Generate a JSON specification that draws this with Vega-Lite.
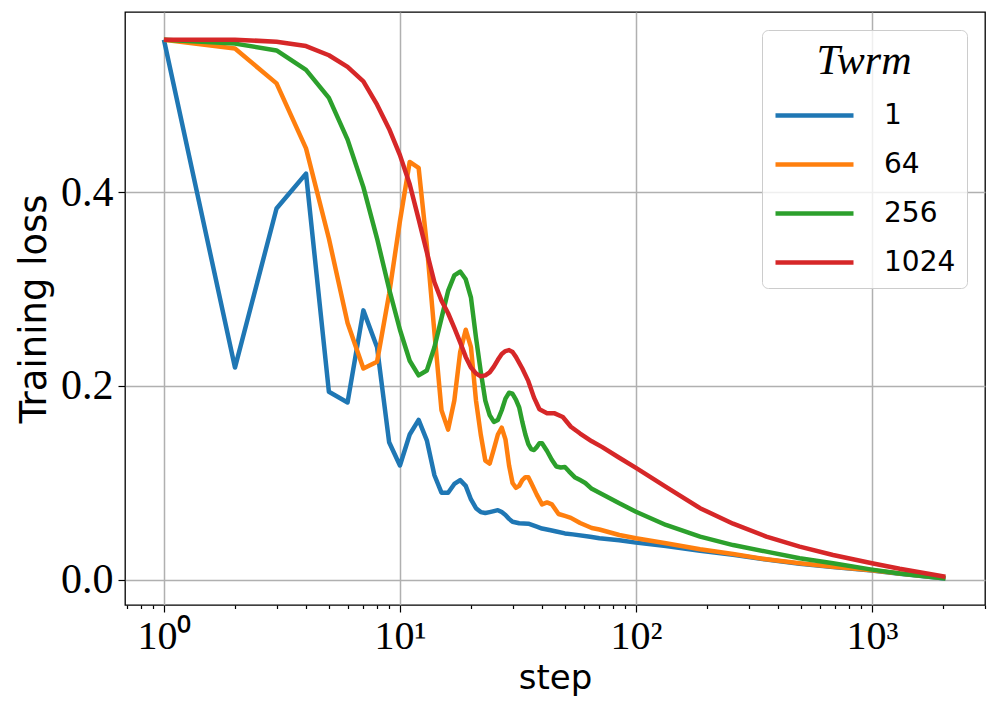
{
  "$schema": "https://vega.github.io/schema/vega-lite/v6.json",
  "width": 860,
  "height": 593,
  "autosize": {"type": "none"},
  "padding": {"left": 125, "top": 12, "right": 12, "bottom": 112},
  "background": "white",
  "config": {
    "view": {"stroke": "black", "strokeWidth": 1.3},
    "axis": {"domain": false, "tickColor": "black", "tickWidth": 1.2, "gridColor": "#b0b0b0", "gridWidth": 1.5, "labelColor": "black", "titleColor": "black"}
  },
  "datasets": {
    "loss": [
      {"step":1,"loss":0.557,"T":"1"},{"step":2,"loss":0.219,"T":"1"},{"step":3,"loss":0.383,"T":"1"},{"step":4,"loss":0.419,"T":"1"},{"step":5,"loss":0.194,"T":"1"},{"step":6,"loss":0.183,"T":"1"},{"step":7,"loss":0.278,"T":"1"},{"step":8,"loss":0.240,"T":"1"},{"step":9,"loss":0.142,"T":"1"},{"step":10,"loss":0.118,"T":"1"},{"step":11,"loss":0.150,"T":"1"},{"step":12,"loss":0.165,"T":"1"},{"step":13,"loss":0.144,"T":"1"},{"step":14,"loss":0.108,"T":"1"},{"step":15,"loss":0.090,"T":"1"},{"step":16,"loss":0.090,"T":"1"},{"step":17,"loss":0.099,"T":"1"},{"step":18,"loss":0.103,"T":"1"},{"step":19,"loss":0.097,"T":"1"},{"step":20,"loss":0.083,"T":"1"},{"step":21,"loss":0.074,"T":"1"},{"step":22,"loss":0.070,"T":"1"},{"step":23,"loss":0.069,"T":"1"},{"step":24,"loss":0.070,"T":"1"},{"step":25,"loss":0.071,"T":"1"},{"step":26,"loss":0.072,"T":"1"},{"step":27,"loss":0.070,"T":"1"},{"step":28,"loss":0.067,"T":"1"},{"step":29,"loss":0.063,"T":"1"},{"step":30,"loss":0.060,"T":"1"},{"step":32,"loss":0.0585,"T":"1"},{"step":35,"loss":0.058,"T":"1"},{"step":38,"loss":0.055,"T":"1"},{"step":40,"loss":0.053,"T":"1"},{"step":43,"loss":0.0515,"T":"1"},{"step":46,"loss":0.050,"T":"1"},{"step":50,"loss":0.048,"T":"1"},{"step":54,"loss":0.047,"T":"1"},{"step":64,"loss":0.0445,"T":"1"},{"step":70,"loss":0.043,"T":"1"},{"step":85,"loss":0.041,"T":"1"},{"step":100,"loss":0.0385,"T":"1"},{"step":134,"loss":0.035,"T":"1"},{"step":187,"loss":0.030,"T":"1"},{"step":258,"loss":0.026,"T":"1"},{"step":357,"loss":0.021,"T":"1"},{"step":494,"loss":0.0168,"T":"1"},{"step":684,"loss":0.0134,"T":"1"},{"step":1000,"loss":0.0098,"T":"1"},{"step":1311,"loss":0.0065,"T":"1"},{"step":2048,"loss":0.0015,"T":"1"},

      {"step":1,"loss":0.557,"T":"64"},{"step":2,"loss":0.548,"T":"64"},{"step":3,"loss":0.512,"T":"64"},{"step":4,"loss":0.445,"T":"64"},{"step":5,"loss":0.352,"T":"64"},{"step":6,"loss":0.265,"T":"64"},{"step":7,"loss":0.218,"T":"64"},{"step":8,"loss":0.225,"T":"64"},{"step":9,"loss":0.295,"T":"64"},{"step":10,"loss":0.370,"T":"64"},{"step":11,"loss":0.431,"T":"64"},{"step":12,"loss":0.425,"T":"64"},{"step":13,"loss":0.345,"T":"64"},{"step":14,"loss":0.255,"T":"64"},{"step":15,"loss":0.175,"T":"64"},{"step":16,"loss":0.155,"T":"64"},{"step":17,"loss":0.185,"T":"64"},{"step":18,"loss":0.235,"T":"64"},{"step":19,"loss":0.258,"T":"64"},{"step":20,"loss":0.240,"T":"64"},{"step":21,"loss":0.185,"T":"64"},{"step":22,"loss":0.150,"T":"64"},{"step":23,"loss":0.123,"T":"64"},{"step":24,"loss":0.120,"T":"64"},{"step":25,"loss":0.135,"T":"64"},{"step":26,"loss":0.150,"T":"64"},{"step":27,"loss":0.157,"T":"64"},{"step":28,"loss":0.145,"T":"64"},{"step":29,"loss":0.118,"T":"64"},{"step":30,"loss":0.100,"T":"64"},{"step":31,"loss":0.095,"T":"64"},{"step":32,"loss":0.097,"T":"64"},{"step":33,"loss":0.103,"T":"64"},{"step":34,"loss":0.106,"T":"64"},{"step":35,"loss":0.106,"T":"64"},{"step":36,"loss":0.100,"T":"64"},{"step":38,"loss":0.088,"T":"64"},{"step":40,"loss":0.078,"T":"64"},{"step":42,"loss":0.080,"T":"64"},{"step":44,"loss":0.078,"T":"64"},{"step":47,"loss":0.068,"T":"64"},{"step":50,"loss":0.066,"T":"64"},{"step":53,"loss":0.064,"T":"64"},{"step":58,"loss":0.0587,"T":"64"},{"step":65,"loss":0.0536,"T":"64"},{"step":70,"loss":0.052,"T":"64"},{"step":85,"loss":0.0464,"T":"64"},{"step":100,"loss":0.043,"T":"64"},{"step":134,"loss":0.0378,"T":"64"},{"step":187,"loss":0.0317,"T":"64"},{"step":258,"loss":0.0268,"T":"64"},{"step":357,"loss":0.0213,"T":"64"},{"step":494,"loss":0.0172,"T":"64"},{"step":684,"loss":0.0137,"T":"64"},{"step":1000,"loss":0.0100,"T":"64"},{"step":1311,"loss":0.0066,"T":"64"},{"step":2048,"loss":0.002,"T":"64"},

      {"step":1,"loss":0.557,"T":"256"},{"step":2,"loss":0.553,"T":"256"},{"step":3,"loss":0.546,"T":"256"},{"step":4,"loss":0.526,"T":"256"},{"step":5,"loss":0.497,"T":"256"},{"step":6,"loss":0.454,"T":"256"},{"step":7,"loss":0.405,"T":"256"},{"step":8,"loss":0.352,"T":"256"},{"step":9,"loss":0.300,"T":"256"},{"step":10,"loss":0.258,"T":"256"},{"step":11,"loss":0.226,"T":"256"},{"step":12,"loss":0.211,"T":"256"},{"step":13,"loss":0.216,"T":"256"},{"step":14,"loss":0.240,"T":"256"},{"step":15,"loss":0.270,"T":"256"},{"step":16,"loss":0.298,"T":"256"},{"step":17,"loss":0.314,"T":"256"},{"step":18,"loss":0.318,"T":"256"},{"step":19,"loss":0.310,"T":"256"},{"step":20,"loss":0.291,"T":"256"},{"step":21,"loss":0.250,"T":"256"},{"step":22,"loss":0.215,"T":"256"},{"step":23,"loss":0.185,"T":"256"},{"step":24,"loss":0.170,"T":"256"},{"step":25,"loss":0.163,"T":"256"},{"step":26,"loss":0.165,"T":"256"},{"step":27,"loss":0.175,"T":"256"},{"step":28,"loss":0.187,"T":"256"},{"step":29,"loss":0.193,"T":"256"},{"step":30,"loss":0.192,"T":"256"},{"step":31,"loss":0.186,"T":"256"},{"step":32,"loss":0.178,"T":"256"},{"step":33,"loss":0.163,"T":"256"},{"step":34,"loss":0.150,"T":"256"},{"step":35,"loss":0.140,"T":"256"},{"step":36,"loss":0.135,"T":"256"},{"step":37,"loss":0.134,"T":"256"},{"step":38,"loss":0.137,"T":"256"},{"step":39,"loss":0.141,"T":"256"},{"step":40,"loss":0.141,"T":"256"},{"step":42,"loss":0.133,"T":"256"},{"step":44,"loss":0.124,"T":"256"},{"step":46,"loss":0.117,"T":"256"},{"step":48,"loss":0.116,"T":"256"},{"step":50,"loss":0.1165,"T":"256"},{"step":52,"loss":0.112,"T":"256"},{"step":55,"loss":0.106,"T":"256"},{"step":58,"loss":0.103,"T":"256"},{"step":61,"loss":0.100,"T":"256"},{"step":65,"loss":0.094,"T":"256"},{"step":70,"loss":0.090,"T":"256"},{"step":85,"loss":0.079,"T":"256"},{"step":100,"loss":0.0704,"T":"256"},{"step":134,"loss":0.0567,"T":"256"},{"step":187,"loss":0.0447,"T":"256"},{"step":258,"loss":0.036,"T":"256"},{"step":357,"loss":0.0292,"T":"256"},{"step":494,"loss":0.0224,"T":"256"},{"step":684,"loss":0.0172,"T":"256"},{"step":1000,"loss":0.0107,"T":"256"},{"step":1311,"loss":0.0066,"T":"256"},{"step":2048,"loss":0.0015,"T":"256"},

      {"step":1,"loss":0.557,"T":"1024"},{"step":2,"loss":0.557,"T":"1024"},{"step":3,"loss":0.555,"T":"1024"},{"step":4,"loss":0.5505,"T":"1024"},{"step":5,"loss":0.541,"T":"1024"},{"step":6,"loss":0.529,"T":"1024"},{"step":7,"loss":0.514,"T":"1024"},{"step":8,"loss":0.490,"T":"1024"},{"step":9,"loss":0.465,"T":"1024"},{"step":10,"loss":0.438,"T":"1024"},{"step":11,"loss":0.408,"T":"1024"},{"step":12,"loss":0.372,"T":"1024"},{"step":13,"loss":0.338,"T":"1024"},{"step":14,"loss":0.307,"T":"1024"},{"step":15,"loss":0.288,"T":"1024"},{"step":16,"loss":0.275,"T":"1024"},{"step":17,"loss":0.260,"T":"1024"},{"step":18,"loss":0.245,"T":"1024"},{"step":19,"loss":0.230,"T":"1024"},{"step":20,"loss":0.219,"T":"1024"},{"step":21,"loss":0.213,"T":"1024"},{"step":22,"loss":0.210,"T":"1024"},{"step":23,"loss":0.211,"T":"1024"},{"step":24,"loss":0.214,"T":"1024"},{"step":25,"loss":0.220,"T":"1024"},{"step":26,"loss":0.227,"T":"1024"},{"step":27,"loss":0.233,"T":"1024"},{"step":28,"loss":0.236,"T":"1024"},{"step":29,"loss":0.237,"T":"1024"},{"step":30,"loss":0.235,"T":"1024"},{"step":31,"loss":0.230,"T":"1024"},{"step":33,"loss":0.218,"T":"1024"},{"step":35,"loss":0.205,"T":"1024"},{"step":37,"loss":0.188,"T":"1024"},{"step":39,"loss":0.176,"T":"1024"},{"step":42,"loss":0.172,"T":"1024"},{"step":45,"loss":0.172,"T":"1024"},{"step":49,"loss":0.168,"T":"1024"},{"step":53,"loss":0.158,"T":"1024"},{"step":58,"loss":0.151,"T":"1024"},{"step":65,"loss":0.143,"T":"1024"},{"step":72,"loss":0.137,"T":"1024"},{"step":85,"loss":0.126,"T":"1024"},{"step":100,"loss":0.1155,"T":"1024"},{"step":134,"loss":0.096,"T":"1024"},{"step":187,"loss":0.074,"T":"1024"},{"step":258,"loss":0.058,"T":"1024"},{"step":357,"loss":0.0447,"T":"1024"},{"step":494,"loss":0.0344,"T":"1024"},{"step":684,"loss":0.0258,"T":"1024"},{"step":1000,"loss":0.0172,"T":"1024"},{"step":1311,"loss":0.0115,"T":"1024"},{"step":2048,"loss":0.0034,"T":"1024"}
    ]
  },
  "data": {"name": "loss"},
  "mark": {"type": "line", "strokeWidth": 4.5, "strokeJoin": "round", "clip": true},
  "encoding": {
    "x": {
      "field": "step",
      "type": "quantitative",
      "scale": {"type": "log", "domain": [0.684, 3013], "nice": false},
      "axis": {
        "title": "step",
        "titleFont": "DejaVu Sans",
        "titleFontSize": 34,
        "titleFontWeight": "normal",
        "titlePadding": 5,
        "values": [0.7,0.8,0.9,1,2,3,4,5,6,7,8,9,10,20,30,40,50,60,70,80,90,100,200,300,400,500,600,700,800,900,1000,2000,3000],
        "labelExpr": "abs(log(datum.value)/LN10 - round(log(datum.value)/LN10)) < 0.000001 ? (round(log(datum.value)/LN10) == 0 ? '10⁰' : round(log(datum.value)/LN10) == 1 ? '10¹' : round(log(datum.value)/LN10) == 2 ? '10²' : '10³') : ''",
        "labelFont": "Liberation Serif",
        "labelFontSize": 40,
        "labelPadding": 4,
        "labelOverlap": false,
        "labelFlush": false,
        "tickSize": {"condition": {"test": "abs(log(datum.value)/LN10 - round(log(datum.value)/LN10)) < 0.000001", "value": 7}, "value": 3.5},
        "gridOpacity": {"condition": {"test": "abs(log(datum.value)/LN10 - round(log(datum.value)/LN10)) < 0.000001", "value": 1}, "value": 0}
      }
    },
    "y": {
      "field": "loss",
      "type": "quantitative",
      "scale": {"domain": [-0.0258, 0.5856], "nice": false, "zero": false},
      "axis": {
        "title": "Training loss",
        "titleFont": "DejaVu Sans",
        "titleFontSize": 37,
        "titleFontWeight": "normal",
        "titlePadding": 7,
        "values": [0, 0.2, 0.4],
        "format": ".1f",
        "labelFont": "Liberation Serif",
        "labelFontSize": 42,
        "labelPadding": 5,
        "tickSize": 7
      }
    },
    "color": {
      "field": "T",
      "type": "nominal",
      "scale": {"domain": ["1", "64", "256", "1024"], "range": ["#1f77b4", "#ff7f0e", "#2ca02c", "#d62728"]},
      "legend": {
        "title": "Twrm",
        "orient": "top-right",
        "offset": 18,
        "titleFont": "Liberation Serif",
        "titleFontStyle": "italic",
        "titleFontSize": 42,
        "titleFontWeight": "normal",
        "titleAnchor": "middle",
        "titleColor": "black",
        "titlePadding": 17,
        "labelFont": "DejaVu Sans",
        "labelFontSize": 28,
        "labelColor": "black",
        "symbolType": "M-1,0H5",
        "symbolSize": 676,
        "symbolStrokeWidth": 4.5,
        "labelOffset": 80,
        "rowPadding": 19,
        "padding": 11,
        "fillColor": "rgba(255,255,255,0.8)",
        "strokeColor": "#cccccc",
        "cornerRadius": 6
      }
    }
  }
}
